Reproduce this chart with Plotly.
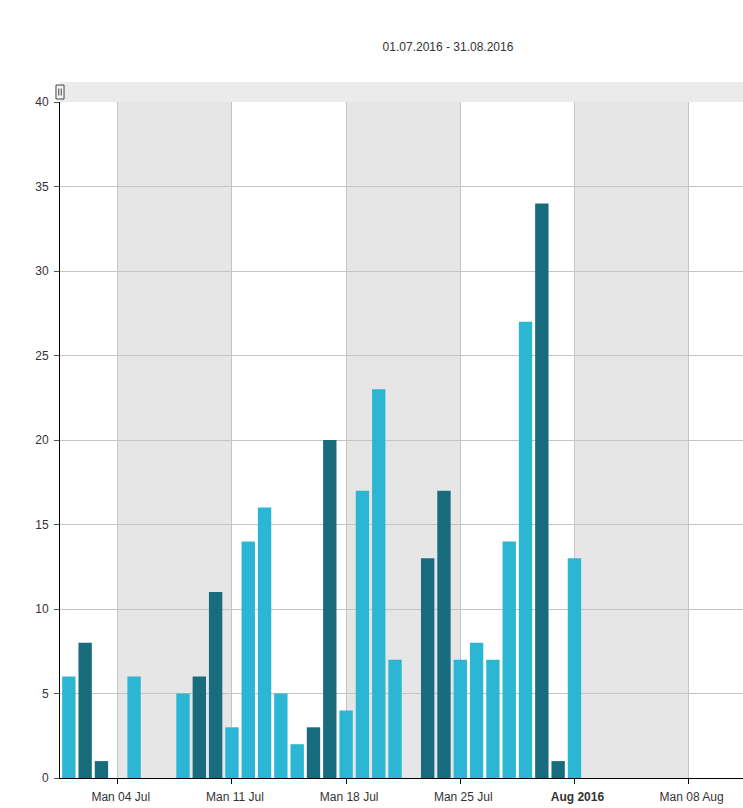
import datetime as dt
import plotly.graph_objects as go

# ---- data ----
dates = ["2016-07-01", "2016-07-02", "2016-07-03", "2016-07-04", "2016-07-05", "2016-07-06",
         "2016-07-07", "2016-07-08", "2016-07-09", "2016-07-10", "2016-07-11", "2016-07-12",
         "2016-07-13", "2016-07-14", "2016-07-15", "2016-07-16", "2016-07-17", "2016-07-18",
         "2016-07-19", "2016-07-20", "2016-07-21", "2016-07-22", "2016-07-23", "2016-07-24",
         "2016-07-25", "2016-07-26", "2016-07-27", "2016-07-28", "2016-07-29", "2016-07-30",
         "2016-07-31", "2016-08-01"]
values = [6, 8, 1, 0, 6, 0, 0, 5, 6, 11, 3, 14, 16, 5, 2, 3, 20, 4, 17, 23, 7, 0,
          13, 17, 7, 8, 7, 14, 27, 34, 1, 13]
tick_dates = ["2016-07-04", "2016-07-11", "2016-07-18", "2016-07-25", "2016-08-01", "2016-08-08"]
tick_labels = ["Man 04 Jul", "Man 11 Jul", "Man 18 Jul", "Man 25 Jul", "<b>Aug 2016</b>", "Man 08 Aug"]
band_starts = ["2016-07-04", "2016-07-18", "2016-08-01", "2016-08-15", "2016-08-29"]
title_text = "01.07.2016 - 31.08.2016"

WEEKDAY_COLOR = "#2bb6d4"
WEEKEND_COLOR = "#186c7d"
colors = [WEEKEND_COLOR if dt.date.fromisoformat(d).weekday() >= 5 else WEEKDAY_COLOR for d in dates]

FONT = "Liberation Sans, Arial, sans-serif"

fig = go.Figure()
fig.add_trace(go.Bar(x=dates, y=values, marker=dict(color=colors, line=dict(width=0)),
                     showlegend=False))

shapes = []
for s in band_starts:
    e = (dt.date.fromisoformat(s) + dt.timedelta(days=7)).isoformat()
    shapes.append(dict(type="rect", xref="x", yref="paper", x0=s, x1=e, y0=0, y1=1,
                       fillcolor="#e6e6e6", line=dict(width=0), layer="below"))
# top navigator band
shapes.append(dict(type="rect", xref="paper", yref="paper", x0=0, x1=1, y0=1.0, y1=1.0296,
                   fillcolor="#ebebeb", line=dict(width=0), layer="below"))
# handle
shapes.append(dict(type="rect", xref="paper", yref="paper", x0=-0.0059, x1=0.0059,
                   y0=1.0044, y1=1.0251, fillcolor="#f4f4f4",
                   line=dict(color="#444", width=1), layer="above"))
for xp in (-0.0018, 0.0018):
    shapes.append(dict(type="line", xref="paper", yref="paper", x0=xp, x1=xp,
                       y0=1.0095, y1=1.0200, line=dict(color="#444", width=1), layer="above"))

fig.update_layout(
    width=743, height=808,
    margin=dict(l=60, r=0, t=102, b=30),
    paper_bgcolor="white", plot_bgcolor="white",
    bargap=0.18,
    font=dict(family=FONT, size=12, color="#333"),
    title=dict(text=title_text, xref="container", yref="container", x=448 / 743,
               y=1 - 46.5 / 808, xanchor="center", yanchor="middle",
               font=dict(family=FONT, size=12, color="#333")),
    shapes=shapes,
    xaxis=dict(type="date", range=["2016-06-30 11:00", "2016-08-11 08:00"],
               tickmode="array", tickvals=tick_dates, ticktext=tick_labels,
               showgrid=True, gridcolor="#c4c4c4", gridwidth=1,
               showline=True, linecolor="black", linewidth=1,
               ticks="outside", ticklen=5, tickcolor="black",
               ticklabelstandoff=3, ticklabelshift=3,
               tickfont=dict(family=FONT, size=12, color="#333"), zeroline=False),
    yaxis=dict(range=[0, 40], dtick=5, tick0=0,
               showgrid=True, gridcolor="#c4c4c4", gridwidth=1,
               showline=True, linecolor="black", linewidth=1,
               ticks="outside", ticklen=5, tickcolor="#555",
               ticklabelstandoff=3,
               tickfont=dict(family=FONT, size=12, color="#333"), zeroline=False),
)

fig.write_html("out.html")
